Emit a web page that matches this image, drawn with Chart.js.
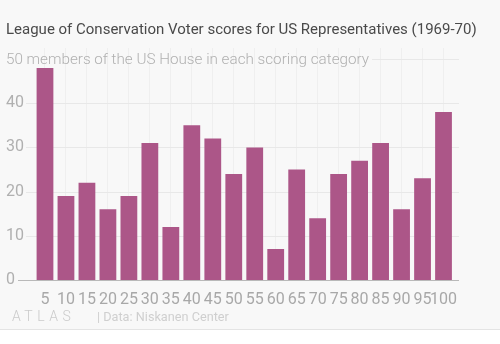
<!DOCTYPE html>
<html><head><meta charset="utf-8">
<script src="https://cdn.jsdelivr.net/npm/chart.js@4/dist/chart.umd.min.js"></script>
<style>html,body{margin:0;padding:0;background:#fff}#wrap{position:relative;width:500px;height:344px}</style>
</head><body><div id="wrap"><canvas id="c" width="500" height="344"></canvas></div>
<script>
const categories = ['5','10','15','20','25','30','35','40','45','50','55','60','65','70','75','80','85','90','95','100'];
const members = [48,19,22,16,19,31,12,35,32,24,30,7,25,14,24,27,31,16,23,38];
const yTicks = [0,10,20,30,40,50];
const titleText = 'League of Conservation Voter scores for US Representatives (1969-70)';
const subtitleText = '50 members of the US House in each scoring category';
const logoText = 'ATLAS';
const sourceText = '| Data: Niskanen Center';

const tickFont = {family: "'Liberation Sans Narrow', 'Roboto', sans-serif", size: 16};

function fitFont(ctx, text, weight, family, target) {
  ctx.font = weight + ' 20px ' + family;
  const w = ctx.measureText(text).width;
  const size = 20 * target / w;
  ctx.font = weight + ' ' + size.toFixed(2) + 'px ' + family;
}

const decor = {
  id: 'decor',
  beforeDraw(chart) {
    const ctx = chart.ctx;
    ctx.save();
    ctx.fillStyle = '#f8f8f8';
    ctx.fillRect(0, 0, 500, 330);
    ctx.fillStyle = '#ffffff';
    ctx.fillRect(0, 330, 500, 14);
    ctx.fillStyle = '#e4e4e4';
    ctx.fillRect(0, 329, 500, 1);
    ctx.restore();
  },
  beforeDatasetsDraw(chart) {
    const ctx = chart.ctx, y = chart.scales.y;
    ctx.save();
    yTicks.forEach(v => {
      const py = Math.round(y.getPixelForValue(v)) + 0.5;
      ctx.beginPath();
      if (v === 0) { ctx.strokeStyle = '#b9b9b9'; ctx.moveTo(18, py); }
      else { ctx.strokeStyle = '#e8e8e8'; ctx.moveTo(v === 50 ? 372 : 26, py); }
      ctx.lineTo(459, py);
      ctx.lineWidth = 1;
      ctx.stroke();
    });
    ctx.restore();
  },
  afterDraw(chart) {
    const ctx = chart.ctx, y = chart.scales.y;
    ctx.save();
    ctx.textBaseline = 'alphabetic';
    ctx.textAlign = 'left';
    ctx.fillStyle = '#4a4a4a';
    fitFont(ctx, titleText, '400', 'Roboto, sans-serif', 471);
    ctx.fillText(titleText, 6, 33.5);
    ctx.fillStyle = '#b0b0b0';
    fitFont(ctx, subtitleText, '300', 'Roboto, sans-serif', 363);
    ctx.fillText(subtitleText, 6, y.getPixelForValue(50) + 5);
    ctx.fillStyle = '#cbcbcb';
    ctx.font = "300 14px Roboto, sans-serif";
    ctx.letterSpacing = '4.5px';
    ctx.fillText(logoText, 12, 321);
    ctx.letterSpacing = '0px';
    ctx.fillStyle = '#cfcfcf';
    fitFont(ctx, sourceText, '400', 'Roboto, sans-serif', 132);
    ctx.fillText(sourceText, 97, 321);
    ctx.restore();
  }
};

new Chart(document.getElementById('c'), {
  type: 'bar',
  data: {
    labels: categories,
    datasets: [{
      data: members,
      backgroundColor: '#ac5688',
      borderWidth: 0,
      barPercentage: 0.8,
      categoryPercentage: 1.0
    }]
  },
  options: {
    responsive: false,
    animation: false,
    devicePixelRatio: 1,
    layout: {padding: {left: 6, right: 46, top: 48, bottom: 40}},
    plugins: {legend: {display: false}, title: {display: false}, tooltip: {enabled: false}},
    scales: {
      x: {
        grid: {display: true, offset: false, color: '#efefef', drawTicks: false},
        border: {display: false},
        ticks: {font: tickFont, color: '#a8a8a8', padding: 10, maxRotation: 0, autoSkip: false},
        afterFit(s) { s.height = 24; }
      },
      y: {
        min: 0, max: 52.5,
        grid: {display: false},
        border: {display: false},
        afterBuildTicks(s) { s.ticks = yTicks.filter(v => v < 50).map(v => ({value: v})); },
        ticks: {font: tickFont, color: '#b0b0b0', crossAlign: 'far', padding: 4},
        afterFit(s) { s.width = 28.5; }
      }
    }
  },
  plugins: [decor]
});
</script>
</body></html>
